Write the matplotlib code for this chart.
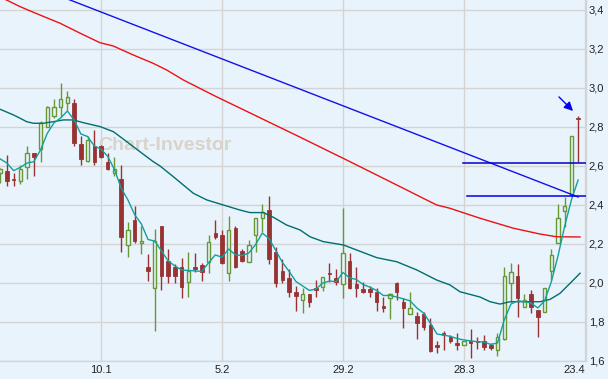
import numpy as np
import matplotlib
matplotlib.use("Agg")
import matplotlib.pyplot as plt

# daily candles (index 0 = first visible day)
opens = [2.562, 2.576, 2.535, 2.521, 2.593, 2.665, 2.686, 2.802, 2.856, 2.904,
         2.921, 2.921, 2.713, 2.624, 2.700, 2.700, 2.618, 2.562, 2.532, 2.195,
         2.323, 2.204, 2.084, 1.973, 2.292, 2.114, 2.084, 2.084, 2.005, 2.080,
         2.092, 2.109, 2.255, 2.246, 2.050, 2.284, 2.166, 2.109, 2.246, 2.332,
         2.374, 2.160, 2.063, 2.024, 1.952, 1.911, 1.944, 1.974, 1.981, 2.053,
         2.024, 1.993, 2.113, 1.995, 1.968, 1.968, 1.955, 1.882, 1.921, 1.998,
         1.904, 1.839, 1.831, 1.839, 1.785, 1.682, 1.742, 1.725, 1.694, 1.680,
         1.701, 1.703, 1.704, 1.682, 1.656, 1.711, 2.002, 2.036, 1.878, 1.944,
         1.862, 1.853, 2.063, 2.203, 2.371, 2.451, 2.848]
highs = [2.590, 2.655, 2.562, 2.603, 2.703, 2.668, 2.830, 2.905, 2.942, 3.024,
         2.985, 2.942, 2.754, 2.754, 2.785, 2.708, 2.665, 2.648, 2.605, 2.313,
         2.395, 2.292, 2.149, 2.275, 2.292, 2.173, 2.097, 2.128, 2.160, 2.152,
         2.100, 2.246, 2.323, 2.272, 2.344, 2.292, 2.175, 2.218, 2.332, 2.405,
         2.446, 2.183, 2.123, 2.070, 1.985, 1.973, 1.944, 2.015, 2.032, 2.100,
         2.070, 2.383, 2.152, 2.080, 2.007, 1.985, 1.973, 1.930, 1.950, 2.003,
         1.921, 1.952, 1.853, 1.853, 1.819, 1.704, 1.752, 1.733, 1.742, 1.704,
         1.764, 1.722, 1.733, 1.694, 1.742, 2.083, 2.104, 2.096, 1.944, 1.964,
         1.862, 1.973, 2.173, 2.405, 2.443, 2.754, 2.856]
lows = [2.511, 2.497, 2.497, 2.508, 2.532, 2.549, 2.622, 2.800, 2.845, 2.850,
        2.887, 2.700, 2.603, 2.620, 2.603, 2.639, 2.579, 2.549, 2.160, 2.132,
        2.207, 2.149, 2.012, 1.752, 1.964, 1.998, 1.998, 1.922, 1.930, 2.058,
        2.012, 2.050, 2.224, 2.097, 2.012, 2.075, 2.109, 2.109, 2.160, 2.264,
        2.097, 1.981, 1.998, 1.930, 1.858, 1.848, 1.878, 1.930, 1.960, 2.007,
        1.990, 1.921, 1.968, 1.930, 1.950, 1.930, 1.858, 1.853, 1.815, 1.913,
        1.770, 1.839, 1.711, 1.759, 1.646, 1.639, 1.656, 1.690, 1.656, 1.680,
        1.614, 1.663, 1.656, 1.656, 1.626, 1.708, 1.904, 1.828, 1.875, 1.848,
        1.722, 1.853, 2.015, 2.203, 2.289, 2.451, 2.622]
closes = [2.583, 2.525, 2.530, 2.583, 2.665, 2.648, 2.822, 2.904, 2.904, 2.942,
          2.952, 2.718, 2.637, 2.733, 2.618, 2.648, 2.583, 2.583, 2.237, 2.272,
          2.217, 2.214, 2.063, 2.215, 2.038, 2.037, 2.037, 1.978, 2.060, 2.070,
          2.058, 2.212, 2.237, 2.100, 2.272, 2.080, 2.114, 2.195, 2.332, 2.362,
          2.123, 1.998, 2.015, 1.955, 1.935, 1.942, 1.904, 1.964, 2.032, 2.046,
          2.007, 2.152, 1.973, 1.973, 1.955, 1.955, 1.904, 1.872, 1.942, 1.955,
          1.873, 1.870, 1.796, 1.776, 1.653, 1.673, 1.733, 1.704, 1.684, 1.704,
          1.694, 1.696, 1.673, 1.665, 1.722, 2.036, 2.058, 1.921, 1.913, 1.875,
          1.824, 1.973, 2.144, 2.332, 2.395, 2.754, 2.842]

# short moving average, one value per candle
fast_ma = [2.636, 2.615, 2.576, 2.593, 2.615, 2.622, 2.682, 2.767, 2.821, 2.846,
           2.882, 2.836, 2.764, 2.751, 2.703, 2.686, 2.649, 2.582, 2.487, 2.426,
           2.351, 2.303, 2.223, 2.215, 2.164, 2.113, 2.087, 2.067, 2.064, 2.062,
           2.059, 2.103, 2.144, 2.132, 2.174, 2.144, 2.141, 2.154, 2.197, 2.256,
           2.228, 2.167, 2.105, 2.059, 2.008, 1.985, 1.962, 1.969, 2.000, 2.010,
           2.007, 2.054, 2.026, 2.018, 1.992, 1.979, 1.962, 1.936, 1.936, 1.928,
           1.919, 1.908, 1.872, 1.846, 1.795, 1.738, 1.733, 1.726, 1.715, 1.708,
           1.703, 1.699, 1.697, 1.685, 1.692, 1.810, 1.892, 1.908, 1.905, 1.897,
           1.872, 1.908, 2.005, 2.138, 2.292, 2.426, 2.528]

# medium moving average
mid_pos = [-0.03, 1.95, 2.95, 3.94, 4.93, 6.41, 7.90, 9.39, 10.88, 12.37, 13.85,
           14.85, 16.83, 18.82, 20.80, 22.78, 23.78, 25.76, 28.74, 30.73, 33.2,
           35.68, 37.17, 39.15, 40.64, 42.63, 44.61, 46.1, 48.08, 51.06, 53.05,
           56.03, 59.0, 61.98, 64.96, 66.93, 68.42, 71.4, 72.89, 74.38, 75.86,
           78.35, 80.33, 81.82, 83.3, 84.79, 86.28]
mid_val = [2.891, 2.862, 2.845, 2.827, 2.819, 2.819, 2.827, 2.836, 2.836, 2.822,
           2.810, 2.802, 2.776, 2.725, 2.673, 2.622, 2.600, 2.545, 2.460, 2.426,
           2.400, 2.374, 2.361, 2.361, 2.337, 2.297, 2.272, 2.237, 2.212, 2.195,
           2.169, 2.130, 2.109, 2.067, 2.015, 1.990, 1.955, 1.928, 1.904, 1.892,
           1.904, 1.904, 1.904, 1.916, 1.947, 1.998, 2.050]

# long moving average
long_pos = [0.0, 2.95, 5.92, 8.9, 11.88, 14.85, 16.83, 19.81, 22.78, 24.78, 27.25,
            32.0, 37.17, 44.61, 52.05, 60.49, 62.96, 64.96, 66.93, 71.4, 76.35,
            80.33, 82.81, 86.28]
long_val = [3.467, 3.417, 3.374, 3.332, 3.281, 3.232, 3.215, 3.169, 3.126, 3.092,
            3.041, 2.958, 2.872, 2.748, 2.622, 2.477, 2.434, 2.400, 2.383, 2.332,
            2.281, 2.251, 2.237, 2.236]

# drawn trend line and levels
trend_pos = [9.5, 86.0]
trend_val = [3.463, 2.441]
level_hi = 2.613
level_lo = 2.444
level_start = [68.9, 69.4]

y_ticks = [1.6, 1.8, 2.0, 2.2, 2.4, 2.6, 2.8, 3.0, 3.2, 3.4]
y_labels = ["1,6", "1,8", "2,0", "2,2", "2,4", "2,6", "2,8", "3,0", "3,2", "3,4"]
x_ticks = [15, 33, 51, 69, 87]
x_labels = ["10.1", "5.2", "29.2", "28.3", "23.4"]

bg = "#e9f3fc"
grid_c = "#d4d4d4"
green = "#669933"
red = "#993333"

plt.rcParams["font.family"] = ["Liberation Sans", "DejaVu Sans"]

fig = plt.figure(figsize=(6.08, 3.79), dpi=100)
fig.patch.set_facecolor(bg)
ax = fig.add_axes([0, 18 / 379, 586 / 608, 361 / 379])
ax.set_facecolor(bg)

o = np.array(opens)
h = np.array(highs)
l = np.array(lows)
c = np.array(closes)
idx = np.arange(len(o))
up = c >= o

ax.vlines(idx, l, h, colors=np.where(up, green, red), lw=1.0, zorder=3)
ax.bar(idx[up], (c - o)[up], bottom=o[up], width=0.5, facecolor=bg,
       edgecolor=green, lw=1.0, zorder=4)
ax.bar(idx[~up], (o - c)[~up], bottom=c[~up], width=0.52, facecolor=red,
       edgecolor=red, lw=0.6, zorder=4)

ax.plot(long_pos, long_val, color="#ee1111", lw=1.0, zorder=5)
ax.plot(mid_pos, mid_val, color="#006e6e", lw=1.0, zorder=5)
ax.plot(idx, fast_ma, color="#11a0a0", lw=1.0, zorder=5)
ax.plot(trend_pos, trend_val, color="#1111ee", lw=1.0, zorder=6)
ax.plot([level_start[0], 87.2], [level_hi, level_hi], color="#0000cc", lw=1.1, zorder=6)
ax.plot([level_start[1], 87.2], [level_lo, level_lo], color="#0000ee", lw=1.1, zorder=6)

ax.annotate("", xy=(85.24, 2.882), xytext=(83.15, 2.954),
            arrowprops=dict(arrowstyle="-|>", color="#0000ee", lw=1.0,
                            mutation_scale=13, shrinkA=0, shrinkB=0), zorder=7)

ax.text(0.281, 0.598, "Chart-Investor", transform=ax.transAxes, fontsize=14,
        fontweight="bold", color="#d9d3ca", ha="center", va="center", zorder=2)

ax.set_xlim(-0.03, 87.17)
ax.set_ylim(1.6, 3.451)
ax.set_yticks(y_ticks)
ax.set_yticklabels(y_labels)
ax.set_xticks(x_ticks)
ax.set_xticklabels(x_labels)
ax.get_xticklabels()[-1].set_horizontalalignment("right")
ax.yaxis.tick_right()
ax.tick_params(axis="both", length=0, labelsize=8, colors="#222222")
ax.tick_params(axis="y", pad=2)
ax.tick_params(axis="x", pad=3)
ax.grid(True, color=grid_c, lw=1.0, zorder=0)
ax.set_axisbelow(True)
for side in ["left", "top"]:
    ax.spines[side].set_visible(False)
for side in ["bottom", "right"]:
    ax.spines[side].set_color(grid_c)
    ax.spines[side].set_linewidth(1.0)

fig.savefig("out.png", dpi=100, facecolor=bg)
